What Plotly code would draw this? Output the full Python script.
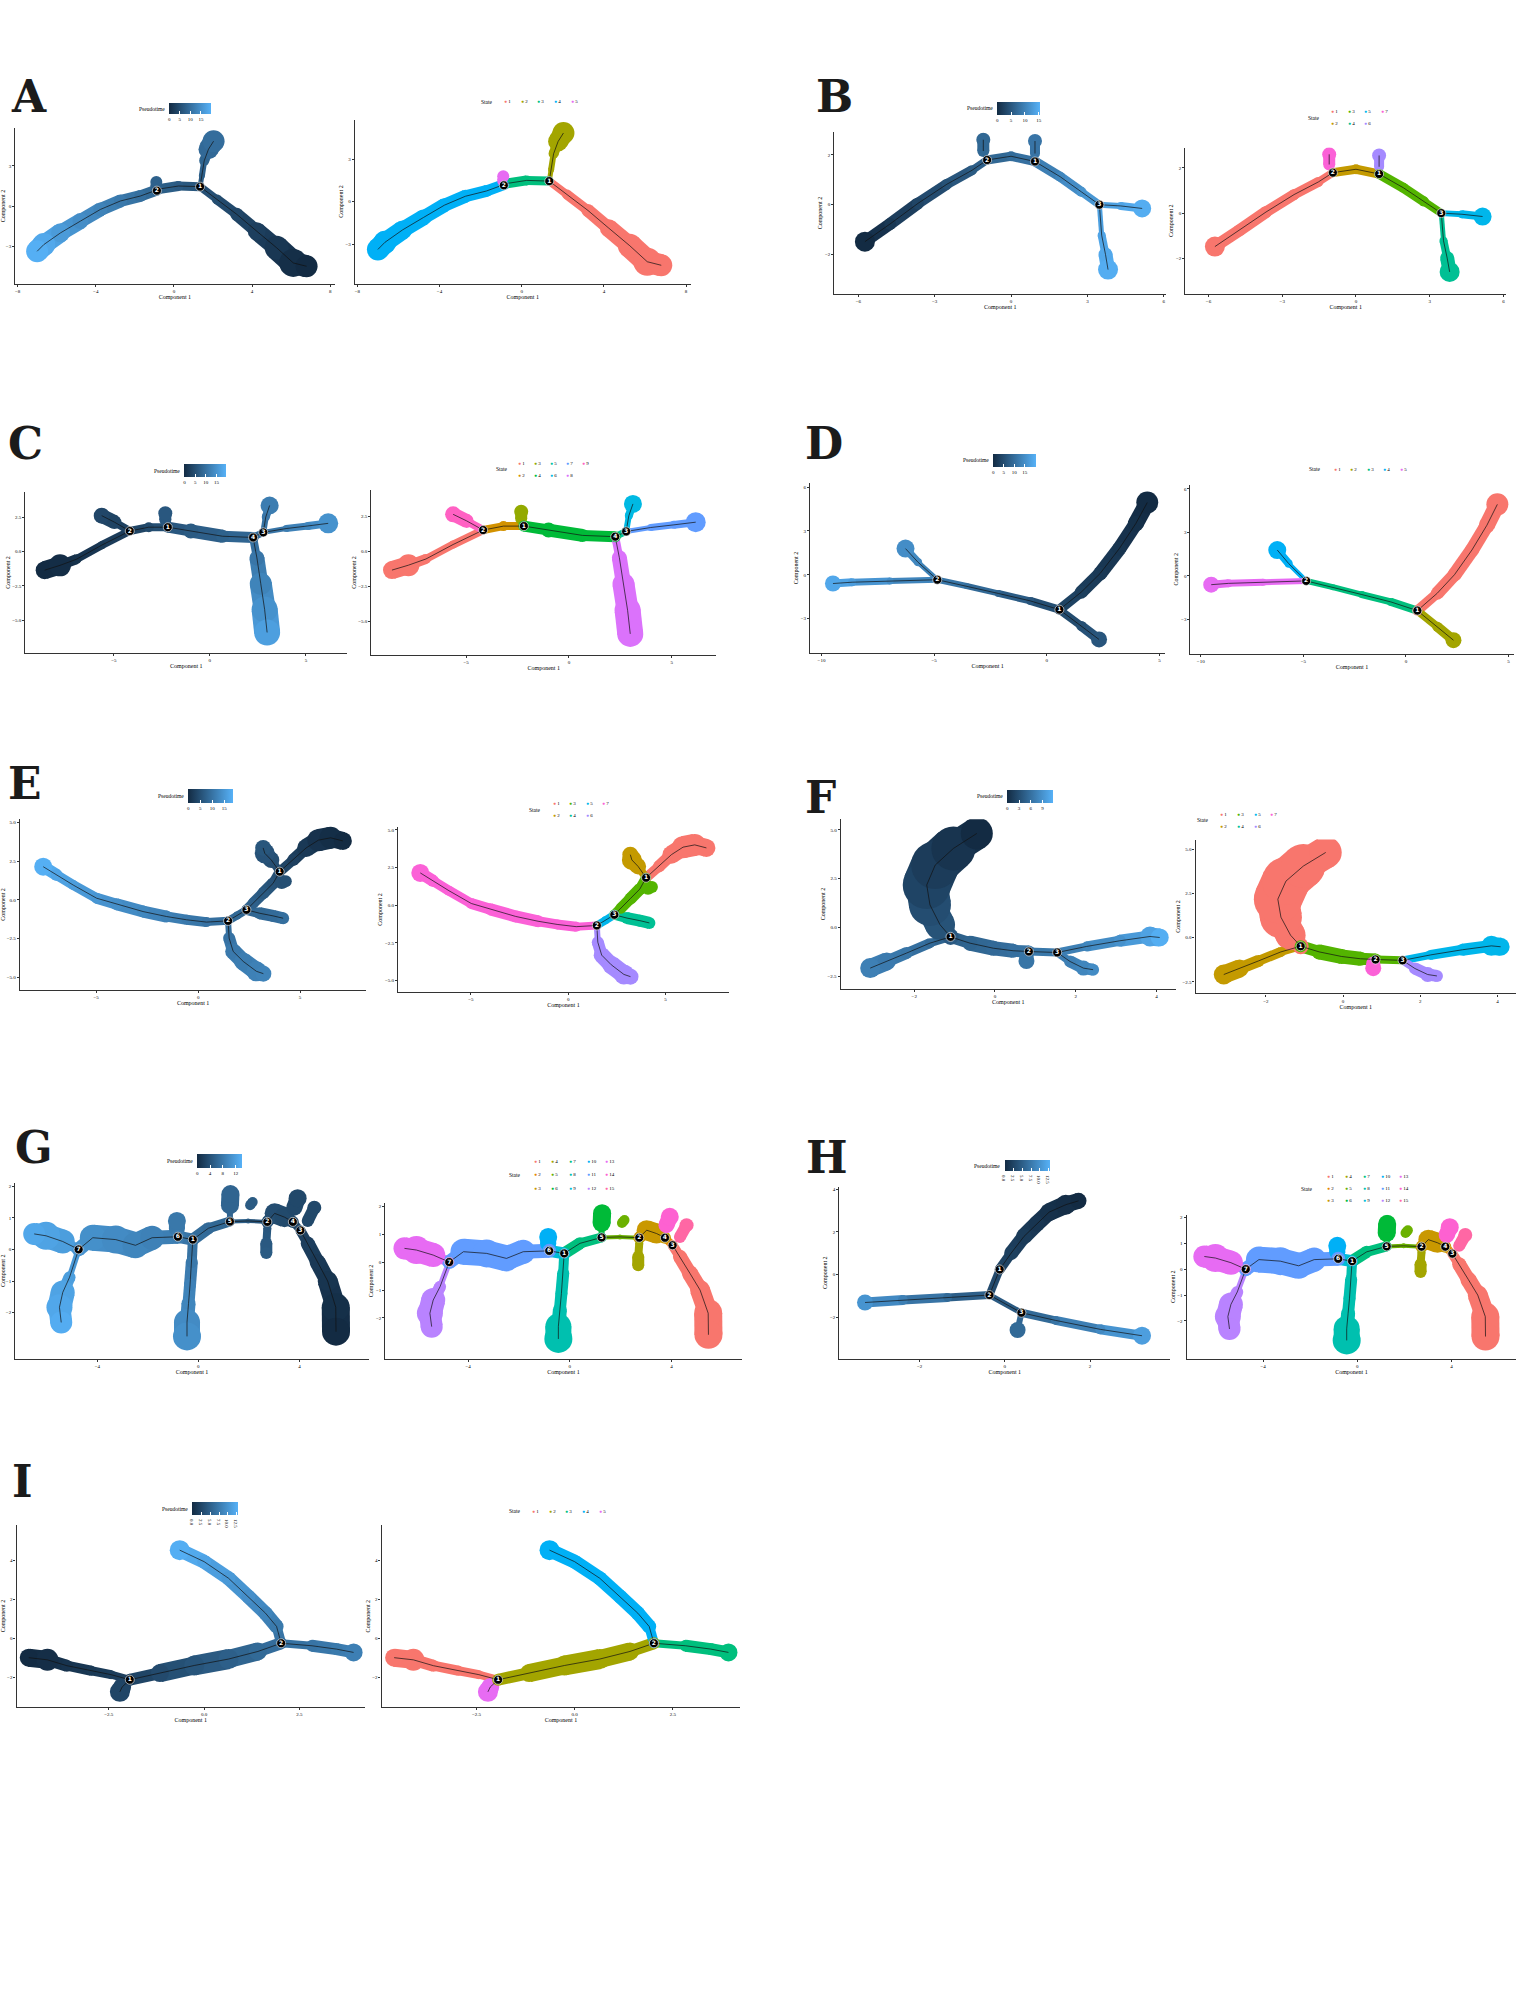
import plotly.graph_objects as go

# ---------------------------------------------------------------------------
# values
# every branch of a trajectory is a path of (Component 1, Component 2) points
# through its cells, with the pseudotime along it and the State of the branch
# ---------------------------------------------------------------------------

# A
A_X = [[1.34, 2.2, 3.22, 4.24, 5.26, 6.11, 6.79],
       [1.34, 1.43, 1.55, 1.77, 2.03],
       [-0.87, 0.24, 1.34],
       [-0.87, -1.72, -2.74, -3.76, -4.78, -5.8, -6.66, -7.0],
       [-0.95, -0.9]]
A_Y = [[1.45, 0.5, -0.62, -1.88, -3.12, -4.25, -4.5],
       [1.45, 2.25, 3.38, 4.25, 4.85],
       [1.25, 1.5, 1.45],
       [1.2, 0.75, 0.38, -0.25, -1.12, -2.0, -2.88, -3.38],
       [1.45, 1.8]]
A_PT = [[6, 5, 4, 3, 1.8, 0.6, 0],
        [6.5, 7.5, 8.5, 9.2, 9.8],
        [8, 7, 6],
        [8.5, 10, 11.5, 13, 14.5, 16.5, 18.5, 19.5],
        [8, 8]]
A_STATE = [1, 2, 3, 4, 5]
A_TREE = [0, 1, 2, 3]
A_NODE_X = [1.34, -0.87]
A_NODE_Y = [1.45, 1.15]
A_NODE_LABEL = ["1", "2"]
A_XRANGE = [-8.12, 8.22]
A_YRANGE = [-5.8, 5.8]
A_XTICKS = [-8, -4, 0, 4, 8]
A_YTICKS = [-3, 0, 3]
A_PT_TICKS = [0, 5, 10, 15]
A_PT_MAX = 19.8
A_N_STATES = 5

# B
B_X = [[-5.74, -4.75, -3.66, -2.52, -1.53, -0.94],
       [-1.09, -1.09],
       [-0.94, 0.0, 0.94],
       [0.94, 0.94],
       [0.94, 1.93, 2.77, 3.47],
       [3.47, 4.31, 5.15],
       [3.47, 3.56, 3.71, 3.81]]
B_Y = [[-1.48, -0.77, 0.05, 0.82, 1.38, 1.79],
       [2.15, 2.6],
       [1.79, 1.94, 1.73],
       [2.05, 2.55],
       [1.73, 1.12, 0.51, 0.0],
       [0.0, -0.05, -0.15],
       [0.0, -1.22, -1.99, -2.6]]
B_PT = [[0, 1.5, 3, 4.5, 5.5, 6.5],
        [7, 7],
        [6.5, 7.5, 8.5],
        [8.5, 8.5],
        [9, 10.5, 12, 13],
        [13, 14, 15],
        [13, 14, 14.5, 15]]
B_STATE = [1, 7, 2, 6, 3, 5, 4]
B_TREE = [0, 1, 2, 3, 4, 5, 6]
B_NODE_X = [-0.94, 0.94, 3.47]
B_NODE_Y = [1.79, 1.73, 0.0]
B_NODE_LABEL = ["2", "1", "3"]
B_XRANGE = [-6.94, 6.1]
B_YRANGE = [-3.57, 2.9]
B_XTICKS = [-6, -3, 0, 3, 6]
B_YTICKS = [-2, 0, 2]
B_PT_TICKS = [0, 5, 10, 15]
B_PT_MAX = 15.5
B_N_STATES = 7

# C
C_X = [[-8.6, -7.8, -6.95, -5.63, -4.17],
       [-4.17, -4.97, -5.63],
       [-4.17, -3.18, -2.19],
       [-2.32, -2.32],
       [-2.19, -0.99, 0.66, 2.25],
       [2.25, 2.78],
       [2.78, 2.91, 3.11],
       [2.78, 3.97, 5.1, 6.16],
       [2.25, 2.45, 2.65, 2.85, 2.98]]
C_Y = [[-1.35, -1.0, -0.56, 0.47, 1.5],
       [1.5, 2.15, 2.62],
       [1.5, 1.78, 1.78],
       [2.3, 2.8],
       [1.78, 1.5, 1.12, 1.03],
       [1.03, 1.4],
       [1.4, 2.52, 3.36],
       [1.4, 1.68, 1.87, 2.06],
       [1.03, -0.47, -2.34, -4.21, -5.89]]
C_PT = [[0, 0.3, 1, 2, 3],
        [3, 3.5, 4],
        [3, 4.5, 6],
        [6.5, 6.5],
        [6, 7, 8, 9],
        [9.5, 9.5],
        [10, 11, 12],
        [10, 12, 13.5, 15],
        [9, 11, 13, 15, 17]]
C_STATE = [1, 9, 2, 3, 4, 5, 6, 7, 8]
C_TREE = [0, 1, 2, 4, 5, 6, 7, 8]
C_NODE_X = [-4.17, -2.19, 2.78, 2.25]
C_NODE_Y = [1.5, 1.78, 1.4, 1.03]
C_NODE_LABEL = ["2", "1", "3", "4"]
C_XRANGE = [-9.6, 7.15]
C_YRANGE = [-7.4, 4.37]
C_XTICKS = [-5, 0, 5]
C_YTICKS = [-5, -2.5, 0, 2.5]
C_PT_TICKS = [0, 5, 10, 15]
C_PT_MAX = 19.6
C_N_STATES = 9

# D
D_X = [[0.56, 1.53, 2.37, 3.22, 3.95, 4.46],
       [0.56, 1.53, 2.32],
       [0.56, -0.73, -2.15, -3.56, -4.86],
       [-4.86, -5.71, -6.27],
       [-4.86, -6.95, -8.64, -9.49]]
D_Y = [[-2.39, -1.19, 0.09, 1.79, 3.5, 4.94],
       [-2.39, -3.5, -4.43],
       [-2.39, -1.79, -1.28, -0.77, -0.34],
       [-0.34, 0.85, 1.79],
       [-0.34, -0.43, -0.51, -0.6]]
D_PT = [[4, 3, 2.2, 1.5, 0.7, 0],
        [4.5, 5.5, 6.5],
        [4.5, 6.5, 8.5, 10.5, 12],
        [12.5, 14, 15],
        [12.5, 15, 17.5, 19]]
D_STATE = [1, 2, 3, 4, 5]
D_TREE = [0, 1, 2, 3, 4]
D_NODE_X = [0.56, -4.86]
D_NODE_Y = [-2.39, -0.34]
D_NODE_LABEL = ["1", "2"]
D_XRANGE = [-10.5, 5.25]
D_YRANGE = [-5.37, 6.3]
D_XTICKS = [-10, -5, 0, 5]
D_YTICKS = [-3, 0, 3, 6]
D_PT_TICKS = [0, 5, 10, 15]
D_PT_MAX = 20.5
D_N_STATES = 5

# E
E_X = [[4.0, 4.66, 5.3, 5.9, 6.5, 7.1],
       [4.0, 3.59, 3.27, 3.19],
       [4.0, 3.68, 3.19, 2.7, 2.37],
       [4.1, 4.3],
       [2.37, 3.02, 3.68, 4.17],
       [2.37, 1.91, 1.47],
       [1.47, 1.52, 1.72, 2.21, 2.86, 3.2],
       [1.47, 0.41, -0.57, -1.55, -2.7, -4.0, -4.98, -6.13, -6.94, -7.6]]
E_Y = [[1.82, 2.57, 3.35, 3.85, 4.0, 3.8],
       [1.82, 2.57, 3.0, 3.35],
       [1.82, 1.07, 0.43, -0.21, -0.64],
       [1.15, 1.2],
       [-0.64, -0.86, -1.03, -1.18],
       [-0.64, -1.01, -1.35],
       [-1.35, -2.46, -3.32, -3.96, -4.6, -4.75],
       [-1.35, -1.43, -1.28, -1.07, -0.75, -0.28, 0.11, 0.96, 1.61, 2.14]]
E_PT = [[4, 3, 2, 1, 0.4, 0],
        [4.5, 5, 5.5, 6],
        [4.5, 5.5, 6.5, 7.5, 8],
        [5, 5],
        [8, 8.5, 9, 9.5],
        [8, 8.5, 9],
        [9, 10, 11, 11.5, 12, 12.3],
        [9, 10, 11, 12, 13, 14, 15, 16, 17, 18.5]]
E_STATE = [1, 2, 3, 3, 4, 5, 6, 7]
E_TREE = [0, 1, 2, 4, 5, 6, 7]
E_NODE_X = [4.0, 2.37, 1.47]
E_NODE_Y = [1.82, -0.64, -1.35]
E_NODE_LABEL = ["1", "3", "2"]
E_XRANGE = [-8.74, 8.25]
E_YRANGE = [-5.78, 5.2]
E_XTICKS = [-5, 0, 5]
E_YTICKS = [-5, -2.5, 0, 2.5, 5]
E_PT_TICKS = [0, 5, 10, 15]
E_PT_MAX = 18.8
E_N_STATES = 7

# F
F_X = [[-1.1, -1.36, -1.61, -1.69, -1.48, -1.03, -0.45],
       [-1.1, -1.61, -2.19, -2.68, -3.09],
       [-1.1, -0.62, -0.04, 0.45, 0.84, 1.54],
       [0.78, 0.78],
       [1.54, 2.27, 3.09, 3.84, 4.08],
       [1.54, 1.86, 2.19, 2.43]]
F_Y = [[-0.48, 0.14, 1.16, 2.18, 3.2, 4.05, 4.82],
       [-0.48, -0.8, -1.31, -1.74, -2.08],
       [-0.48, -0.8, -1.06, -1.19, -1.23, -1.28],
       [-1.45, -1.72],
       [-1.28, -0.97, -0.68, -0.46, -0.51],
       [-1.28, -1.74, -2.08, -2.16]]
F_PT = [[4, 3.5, 3, 2.2, 1.5, 0.8, 0],
        [4.5, 5.5, 6.5, 7, 7.5],
        [4.5, 5, 5.5, 6, 6.5, 7],
        [6.5, 6.5],
        [7, 8, 9, 10.5, 11.5],
        [7, 7.5, 8, 8.5]]
F_STATE = [1, 2, 3, 7, 5, 6]
F_TREE = [0, 1, 2, 4, 5]
F_NODE_X = [-1.1, 0.84, 1.54]
F_NODE_Y = [-0.48, -1.23, -1.28]
F_NODE_LABEL = ["1", "2", "3"]
F_XRANGE = [-3.82, 4.48]
F_YRANGE = [-3.15, 5.55]
F_XTICKS = [-2, 0, 2, 4]
F_YTICKS = [-2.5, 0, 2.5, 5]
F_PT_TICKS = [0, 3, 6, 9]
F_PT_MAX = 11.8
F_N_STATES = 7

# G (its State plot is also shown in H)
G_X = [[4.04, 4.33, 4.72, 5.12, 5.44, 5.45],
       [3.74, 4.04],
       [2.73, 3.02, 3.41, 3.74],
       [2.73, 2.69, 2.69],
       [1.25, 1.97, 2.73],
       [2.05, 2.15],
       [1.25, 1.25, 1.27],
       [-0.22, 0.4, 1.25],
       [-0.22, -0.26, -0.33, -0.39, -0.45, -0.45],
       [-0.81, -0.22],
       [-0.85, -0.85],
       [-4.74, -4.18, -3.27, -2.49, -1.83, -0.81],
       [-4.74, -5.1, -5.37, -5.5, -5.43],
       [-4.74, -5.37, -6.03, -6.5],
       [3.8, 3.93],
       [4.33, 4.59]]
G_Y = [[0.6, 0.19, -0.4, -1.0, -1.83, -2.6],
       [0.87, 0.6],
       [0.87, 1.14, 1.02, 0.87],
       [0.67, 0.19, -0.11],
       [0.88, 0.9, 0.87],
       [1.4, 1.5],
       [0.88, 1.4, 1.75],
       [0.31, 0.67, 0.88],
       [0.31, -0.4, -1.12, -1.71, -2.3, -2.75],
       [0.4, 0.31],
       [0.65, 0.9],
       [0.0, 0.37, 0.31, 0.13, 0.37, 0.4],
       [0.0, -0.88, -1.36, -1.83, -2.31],
       [0.0, 0.25, 0.43, 0.49],
       [1.32, 1.62],
       [0.9, 1.32]]
G_PT = [[2.5, 2, 1.5, 1, 0.5, 0],
        [3, 2.7],
        [4, 3.6, 3.2, 3],
        [4.5, 4.8, 5],
        [6, 5, 4],
        [5, 5],
        [6, 6, 6],
        [7, 6.5, 6],
        [7, 8, 9, 9.5, 10, 10.5],
        [8, 7.5],
        [8, 8],
        [11, 10.5, 10, 9.5, 9, 8.5],
        [11, 12, 12.5, 13, 13.5],
        [11, 12, 12.5, 13],
        [3, 3],
        [3, 3]]
G_STATE = [1, 2, 3, 4, 5, 5, 6, 7, 8, 9, 10, 11, 12, 13, 14, 15]
G_TREE = [0, 2, 4, 7, 8, 9, 11, 12, 13]
G_NODE_X = [-4.74, -0.81, -0.22, 1.25, 2.73, 3.74, 4.04]
G_NODE_Y = [0.0, 0.4, 0.31, 0.88, 0.87, 0.87, 0.6]
G_NODE_LABEL = ["7", "6", "1", "5", "2", "4", "3"]
G_XRANGE = [-7.25, 6.75]
G_YRANGE = [-3.45, 2.1]
G_XTICKS = [-4, 0, 4]
G_YTICKS = [-2, -1, 0, 1, 2]
G_PT_TICKS = [0, 4, 8, 12]
G_PT_MAX = 14
G_N_STATES = 15

# H (pseudotime plot)
H_X = [[-0.12, 0.15, 0.45, 0.75, 1.04, 1.43, 1.73],
       [-0.12, -0.36],
       [-0.36, -1.34, -2.39, -3.28],
       [-0.36, 0.39],
       [0.39, 1.19, 2.24, 3.22],
       [0.39, 0.3]]
H_Y = [[0.24, 1.01, 1.79, 2.39, 2.93, 3.28, 3.46],
       [0.24, -0.96],
       [-0.96, -1.07, -1.19, -1.31],
       [-0.96, -1.79],
       [-1.79, -2.15, -2.57, -2.87],
       [-1.79, -2.6]]
H_PT = [[2.5, 2, 1.5, 1, 0.6, 0.3, 0],
        [2.5, 3.5],
        [4, 6, 8, 10],
        [4, 5],
        [5, 7, 9, 11],
        [5.5, 6]]
H_STATE = [1, 1, 2, 2, 3, 3]
H_TREE = [0, 1, 2, 3, 4]
H_NODE_X = [-0.12, -0.36, 0.39]
H_NODE_Y = [0.24, -0.96, -1.79]
H_NODE_LABEL = ["1", "2", "3"]
H_XRANGE = [-3.88, 3.88]
H_YRANGE = [-3.94, 4.12]
H_XTICKS = [-2, 0, 2]
H_YTICKS = [-2, 0, 2, 4]
H_PT_TICKS = [0, 2.5, 5, 7.5, 10, 12.5]
H_PT_MAX = 12.8
H_N_STATES = 15

# I
I_X = [[-4.6, -4.11, -3.6, -2.96, -2.44, -1.95],
       [-1.95, -2.15, -2.21],
       [-1.95, -1.16, -0.26, 0.64, 1.41, 2.02],
       [2.02, 2.83, 3.47, 3.92],
       [2.02, 1.9, 1.61, 1.16, 0.64, 0.0, -0.64]]
I_Y = [[-1.0, -1.11, -1.41, -1.67, -1.87, -2.13],
       [-2.13, -2.5, -2.75],
       [-2.13, -1.79, -1.4, -1.07, -0.68, -0.26],
       [-0.26, -0.39, -0.56, -0.73],
       [-0.26, 0.6, 1.28, 2.13, 3.07, 3.92, 4.51]]
I_PT = [[0, 0.3, 0.8, 1.3, 1.7, 2],
        [2.2, 2.4, 2.5],
        [2, 3, 4, 5, 6, 6.5],
        [6.5, 7, 7.5, 8],
        [6.5, 7.5, 8.5, 9.5, 10.5, 11.5, 12.5]]
I_STATE = [1, 5, 2, 3, 4]
I_TREE = [0, 1, 2, 3, 4]
I_NODE_X = [-1.95, 2.02]
I_NODE_Y = [-2.13, -0.26]
I_NODE_LABEL = ["1", "2"]
I_XRANGE = [-4.92, 4.22]
I_YRANGE = [-3.53, 5.79]
I_XTICKS = [-2.5, 0, 2.5]
I_YTICKS = [-2, 0, 2, 4]
I_PT_TICKS = [0, 2.5, 5, 7.5, 10, 12.5]
I_PT_MAX = 12.8
I_N_STATES = 5

# ---------------------------------------------------------------------------
# style: thickness of the cell clouds along each branch (px)
# ---------------------------------------------------------------------------
A_W = [[8, 10, 13, 18, 24, 28, 22], [5, 6, 10, 20, 22], [10, 10, 9],
       [11, 12, 13, 14, 16, 19, 23, 22], [10, 12]]
B_W = [[20, 12, 12, 11, 10, 8], [12, 14], [9, 10, 9], [10, 14], [10, 10, 10, 8],
       [6, 8, 18], [5, 8, 14, 20]]
C_W = [[18, 22, 10, 8, 8], [8, 14, 16], [8, 10, 8], [12, 14], [11, 15, 13, 11], [7, 7],
       [6, 8, 18], [5, 7, 8, 20], [8, 15, 22, 26, 26]]
D_W = [[10, 13, 14, 14, 16, 22], [8, 10, 16], [8, 8, 7, 6, 6], [5, 8, 18], [6, 7, 8, 16]]
E_W = [[10, 12, 18, 22, 22, 18], [8, 16, 20, 16], [10, 12, 12, 11, 10], [14, 12],
       [10, 12, 12, 12], [8, 8, 8], [6, 12, 16, 18, 20, 16],
       [8, 10, 10, 12, 12, 12, 11, 10, 12, 18]]
F_W = [[16, 30, 42, 48, 48, 44, 32], [8, 10, 12, 18, 20], [12, 15, 15, 14, 12, 8], [14, 16],
       [8, 10, 12, 20, 18], [8, 12, 15, 12]]
G_W = [[10, 14, 16, 20, 28, 28], [8, 8], [12, 20, 20, 12], [8, 12, 12], [4, 5, 4], [10, 10],
       [6, 18, 18], [12, 12, 10], [10, 12, 12, 14, 26, 28], [12, 12], [16, 18],
       [14, 26, 28, 26, 24, 14], [6, 12, 24, 26, 22], [10, 24, 28, 22], [16, 18], [12, 14]]
H_W = [[10, 14, 16, 16, 18, 20, 16], [8, 8], [8, 9, 10, 16], [6, 6], [8, 9, 10, 18], [6, 16]]
I_W = [[18, 22, 12, 10, 9, 8], [6, 18, 20], [12, 18, 20, 20, 18, 12], [8, 12, 12, 18],
       [10, 14, 14, 14, 14, 14, 20]]

REF_W, REF_H = 1210.0, 1566.0      # grid the positions below were measured on
FIG_W, FIG_H = 1539, 1992
S = FIG_W / REF_W
SERIF = "Liberation Serif"
PT_LOW, PT_HIGH = (19, 43, 67), (86, 177, 247)
PT_SCALE = [[0, "rgb(19,43,67)"], [1, "rgb(86,177,247)"]]
HUE = {
    5: ["#F8766D", "#A3A500", "#00BF7D", "#00B0F6", "#E76BF3"],
    7: ["#F8766D", "#C49A00", "#53B400", "#00C094", "#00B6EB", "#A58AFF", "#FB61D7"],
    9: ["#F8766D", "#D39200", "#93AA00", "#00BA38", "#00C19F", "#00B9E3", "#619CFF",
        "#DB72FB", "#FF61C3"],
    15: ["#F8766D", "#E58700", "#C99800", "#A3A500", "#6BB100", "#00BA38", "#00BF7D",
         "#00C0AF", "#00BCD8", "#00B0F6", "#619CFF", "#B983FF", "#E76BF3", "#FD61D1",
         "#FF67A4"],
}


def panel(p):
    g = globals()
    keys = ["X", "Y", "PT", "STATE", "TREE", "NODE_X", "NODE_Y", "NODE_LABEL", "XRANGE",
            "YRANGE", "XTICKS", "YTICKS", "PT_TICKS", "PT_MAX", "N_STATES", "W"]
    return {k: g[p + "_" + k] for k in keys}


A, B, C, D, E, F, G, H, I = [panel(p) for p in "ABCDEFGHI"]

# layout, measured on the reference grid: plot boxes (x0, x1, y0, y1),
# letter centre, colour bar box, legend (label right edge, first dot, step, rows)
SPECS = [
    dict(tag="A", d=A, rd=A, left=(12, 263, 101, 223), right=(279, 543, 94, 223),
         letter=(23, 76), cbar=(133, 166, 81, 90), legend=(389, 395, 13, [80])),
    dict(tag="B", d=B, rd=B, left=(656, 917, 104, 231), right=(932, 1184, 116, 231),
         letter=(656, 76), cbar=(784, 818, 80, 90), legend=(1039, 1045, 13, [88, 97])),
    dict(tag="C", d=C, rd=C, left=(20, 273, 386.5, 513.5), right=(292, 563, 385, 515),
         letter=(20, 349), cbar=(145, 178, 365, 375), legend=(401, 406, 12.5, [364, 373.5])),
    dict(tag="D", d=D, rd=D, left=(637, 916, 379.5, 513.5), right=(936, 1190, 381, 514),
         letter=(648, 349), cbar=(781, 815, 357, 367), legend=(1040, 1047, 13, [369])),
    dict(tag="E", d=E, rd=E, left=(15.7, 288, 644, 778), right=(313, 573, 650, 780),
         letter=(20, 616), cbar=(148, 183, 620, 631), legend=(427, 433, 13, [632, 641])),
    dict(tag="F", d=F, rd=F, left=(661, 924.5, 644, 777.5), right=(940, 1192, 660, 781),
         letter=(645, 627), cbar=(792, 828, 621, 631), legend=(952, 958, 13, [640, 650])),
    dict(tag="G", d=G, rd=G, left=(12, 290, 930, 1068), right=(303, 583, 946, 1068),
         letter=(27, 902), cbar=(155, 190, 907, 918), legend=(411, 418, 14, [913, 923, 934])),
    dict(tag="H", d=H, rd=G, left=(660, 920, 933, 1068), right=(933, 1192, 955, 1068),
         letter=(650, 910), cbar=(790, 825, 912, 921), legend=(1034, 1042, 14, [925, 934.5, 944])),
    dict(tag="I", d=I, rd=I, left=(13, 287, 1199, 1342), right=(300, 582, 1199, 1342),
         letter=(18, 1165), cbar=(151, 187, 1181, 1191), legend=(411, 417, 13, [1188])),
]


def fx(v):
    return v / REF_W


def fy(v):
    return 1 - v / REF_H


def fmt(vals):
    return ".1f" if any(v != int(v) for v in vals) else ""


def pt_colour(t):
    t = min(max(t, 0.0), 1.0)
    c = [round(a + (b - a) * t) for a, b in zip(PT_LOW, PT_HIGH)]
    return "rgb(%d,%d,%d)" % tuple(c)


fig = go.Figure()
layout = dict(width=FIG_W, height=FIG_H, margin=dict(l=0, r=0, t=0, b=0),
              paper_bgcolor="white", plot_bgcolor="white", showlegend=False,
              font=dict(family=SERIF, color="black"), annotations=[])
n_axes = 0


def new_axes(box, d):
    global n_axes
    n_axes += 1
    k = "" if n_axes == 1 else str(n_axes)
    x0, x1, y0, y1 = box
    common = dict(showgrid=False, zeroline=False, showline=True, linecolor="#333",
                  linewidth=1.2, ticks="outside", ticklen=2, tickwidth=0.8, tickcolor="#333",
                  tickfont=dict(size=5, family=SERIF, color="black"), fixedrange=True)
    layout["xaxis" + k] = dict(common, domain=[fx(x0), fx(x1)], range=d["XRANGE"],
                               anchor="y" + k, tickvals=d["XTICKS"], tickformat=fmt(d["XTICKS"]),
                               title=dict(text="Component 1", standoff=1,
                                          font=dict(size=6, family=SERIF, color="black")))
    layout["yaxis" + k] = dict(common, domain=[fy(y1), fy(y0)], range=d["YRANGE"],
                               anchor="x" + k, tickvals=d["YTICKS"], tickformat=fmt(d["YTICKS"]),
                               title=dict(text="Component 2", standoff=1,
                                          font=dict(size=6, family=SERIF, color="black")))
    return "x" + k, "y" + k


def draw(xa, ya, d, by_state, ca=None):
    bx, by, bw = d["X"], d["Y"], d["W"]
    pal = HUE[d["N_STATES"]] if by_state else None
    groups = {}
    for b in range(len(bx)):
        for i in range(len(bx[b]) - 1):
            if by_state:
                col = pal[d["STATE"][b] - 1]
            else:
                col = pt_colour((d["PT"][b][i] + d["PT"][b][i + 1]) / 2 / d["PT_MAX"])
            key = (col, min(bw[b][i], bw[b][i + 1]))
            gx, gy = groups.setdefault(key, ([], []))
            gx += [bx[b][i], bx[b][i + 1], None]
            gy += [by[b][i], by[b][i + 1], None]
    for (col, w), (gx, gy) in groups.items():
        fig.add_trace(go.Scatter(x=gx, y=gy, mode="lines", xaxis=xa, yaxis=ya,
                                 line=dict(color=col, width=w), hoverinfo="skip"))
    for b in range(len(bx)):
        if by_state:
            mk = dict(color=pal[d["STATE"][b] - 1], size=bw[b], opacity=1, line=dict(width=0))
        else:
            mk = dict(color=d["PT"][b], coloraxis=ca, size=bw[b], opacity=1, line=dict(width=0))
        fig.add_trace(go.Scatter(x=bx[b], y=by[b], mode="markers", xaxis=xa, yaxis=ya,
                                 marker=mk, hoverinfo="skip"))
    tx, ty = [], []
    for b in d["TREE"]:
        tx += bx[b] + [None]
        ty += by[b] + [None]
    fig.add_trace(go.Scatter(x=tx, y=ty, mode="lines", xaxis=xa, yaxis=ya,
                             line=dict(color="#111", width=0.7), hoverinfo="skip"))
    fig.add_trace(go.Scatter(x=d["NODE_X"], y=d["NODE_Y"], mode="markers+text",
                             xaxis=xa, yaxis=ya, text=d["NODE_LABEL"],
                             textposition="middle center",
                             textfont=dict(family="DejaVu Sans", size=6, color="white",
                                           weight="bold"),
                             marker=dict(color="black", size=9, opacity=1,
                                         line=dict(color="white", width=0.6)),
                             hoverinfo="skip"))


def note(x, y, text, size, xanchor="center", family=SERIF, color="black"):
    layout["annotations"].append(dict(x=fx(x), y=fy(y), xref="paper", yref="paper", text=text,
                                      showarrow=False, xanchor=xanchor, yanchor="middle",
                                      font=dict(size=size, family=family, color=color)))


for p, sp in enumerate(SPECS):
    d, rd = sp["d"], sp["rd"]
    ca = "coloraxis" if p == 0 else "coloraxis%d" % (p + 1)

    xa, ya = new_axes(sp["left"], d)
    draw(xa, ya, d, False, ca)
    xa, ya = new_axes(sp["right"], rd)
    draw(xa, ya, rd, True)

    x0, x1, y0, y1 = sp["cbar"]
    layout[ca] = dict(
        colorscale=PT_SCALE, cmin=0, cmax=d["PT_MAX"],
        colorbar=dict(orientation="h", x=fx(x0), xanchor="left", y=fy(y0), yanchor="top",
                      len=(x1 - x0) * S, lenmode="pixels", thickness=(y1 - y0) * S,
                      xpad=0, ypad=0, outlinewidth=0, ticks="inside", ticklen=3,
                      tickcolor="white", tickwidth=1, tickvals=d["PT_TICKS"],
                      tickformat=fmt(d["PT_TICKS"]),
                      tickfont=dict(size=5, family=SERIF, color="black"), title=dict(text="")))
    note(x0 - 2, (y0 + y1) / 2, "Pseudotime", 5.5, "right")

    lx, dx0, step, rows = sp["legend"]
    pal = HUE[rd["N_STATES"]]
    note(lx, sum(rows) / len(rows), "State", 5.5, "right")
    for i, col in enumerate(pal):
        r, c = i % len(rows), i // len(rows)
        note(dx0 + c * step, rows[r],
             "<span style='color:%s'>●</span> %d" % (col, i + 1), 5, "left")

    lxp, lyp = sp["letter"]
    note(lxp, lyp, "<b>%s</b>" % sp["tag"], 44, "center", "DejaVu Serif", "#1b1b1b")

fig.update_layout(**layout)
fig.write_html("out.html", config={"displayModeBar": False},
               post_script="document.body.style.margin='0';")
